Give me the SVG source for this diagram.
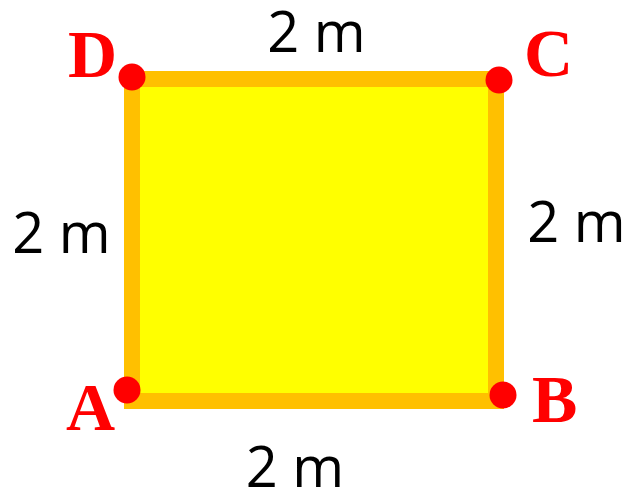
<svg xmlns="http://www.w3.org/2000/svg" width="631" height="493" viewBox="0 0 631 493">
<style>
.pt{font-family:"Liberation Serif","Times New Roman",serif;font-weight:bold;font-size:68px;fill:#FF0000}
.len{font-family:"Open Sans","Liberation Sans",sans-serif;font-size:56px;fill:#000;text-anchor:middle}
.dot{fill:#FF0000}
</style>
<rect width="631" height="493" fill="#fff"/>
<g id="square">
<rect x="132" y="79" width="364" height="322" fill="#FFFF00" stroke="#FFC000" stroke-width="16"/>
</g>
<g id="connectors"></g>
<g id="A"><circle class="dot" cx="127" cy="390" r="13.5"/><text class="pt" x="66" y="430">A</text></g>
<g id="B"><circle class="dot" cx="503" cy="395" r="13.5"/><text class="pt" x="532" y="422">B</text></g>
<g id="C"><circle class="dot" cx="499" cy="80" r="13.5"/><text class="pt" x="524" y="76">C</text></g>
<g id="D"><circle class="dot" cx="132" cy="77" r="13.5"/><text class="pt" x="68" y="77">D</text></g>
<g id="labels">
<text class="len" x="316.5" y="52">2 m</text>
<text class="len" x="61.5" y="253">2 m</text>
<text class="len" x="576.5" y="242">2 m</text>
<text class="len" x="295" y="487">2 m</text>
</g>
</svg>
